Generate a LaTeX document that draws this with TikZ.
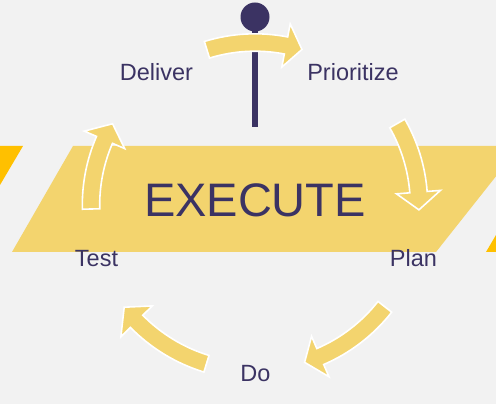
\documentclass[tikz,border=0pt]{standalone}
\usepackage{fontspec}
\setmainfont{Liberation Sans}
\usetikzlibrary{calc}
\definecolor{bg}{HTML}{F2F2F2}
\definecolor{yel}{HTML}{F3D46E}
\definecolor{org}{HTML}{FFC000}
\definecolor{pur}{HTML}{3B3363}
\tikzset{
  cyc/.style={fill=yel, draw=white, line width=1.6pt, line join=miter},
  lbl/.style={anchor=base, text=pur, inner sep=0pt, font=\fontsize{23.5}{28}\selectfont},
}
\newcommand{\cycarrow}[4]{%
  \pgfmathsetmacro{\ro}{#1+8.7}\pgfmathsetmacro{\ri}{#1-8.7}%
  \pgfmathsetmacro{\ho}{#1+22}\pgfmathsetmacro{\hi}{#1-22}%
  \filldraw[cyc] ($(C)+(#2:\ro pt)$) arc[start angle=#2, end angle=#3, radius=\ro pt]
    -- ($(C)+(#3:\ho pt)$) -- ($(C)+(#4:#1pt)$) -- ($(C)+(#3:\hi pt)$)
    -- ($(C)+(#3:\ri pt)$) arc[start angle=#3, end angle=#2, radius=\ri pt] -- cycle;}
\begin{document}
\begin{tikzpicture}[x=1pt,y=1pt]
\useasboundingbox (0,0) rectangle (496,404);
\fill[bg] (0,0) rectangle (496,404);
\begin{scope}
\clip (0,0) rectangle (496,404);
% banners
\fill[yel] (12,152) -- (73,258) -- (520,258) -- (436,152) -- cycle;
\fill[org] (-10,258) -- (23,258) -- (0,219) -- (-10,219) -- cycle;
\fill[org] (486,152) -- (510,152) -- (510,180) -- (496,169) -- cycle;
\end{scope}
\coordinate (C) at (255,199);
% pin
\fill[pur] (252,277) rectangle (258,380);
\fill[pur] (255,387) circle (14.5);
% cycle arrows
\cycarrow{162.5}{107.2}{79}{73.2}
\cycarrow{164}{29.8}{4.5}{-1.7}
\cycarrow{165}{-38.1}{-66.7}{-72.5}
\cycarrow{166}{-107}{-135.5}{-142}
\cycarrow{164}{181.4}{156.6}{150.3}
% texts
\node[anchor=base, text=pur, inner sep=0pt, font=\fontsize{47}{50}\selectfont] (exec) at (255,187) {EXECUTE};
\node[lbl] (deliver) at (156.5,323) {Deliver};
\node[lbl] (prior) at (353,323) {Prioritize};
\node[lbl] (test) at (96.5,137) {Test};
\node[lbl] (plan) at (413.5,137) {Plan};
\node[lbl] (do) at (255.5,22) {Do};
\end{tikzpicture}
\end{document}
